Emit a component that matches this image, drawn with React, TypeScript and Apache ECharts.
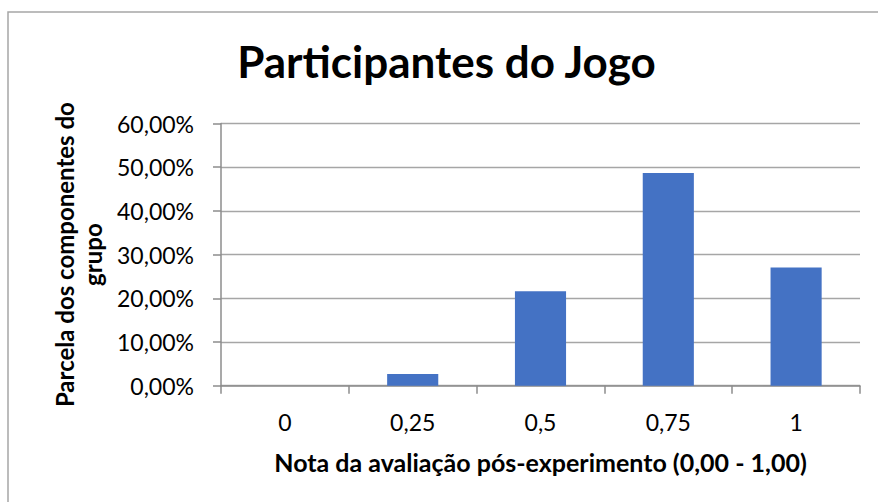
import React, { useEffect, useRef } from "react";
import * as echarts from "echarts";

const categories = ["0", "0,25", "0,5", "0,75", "1"];
const shares = [0, 2.7027, 21.6216, 48.6486, 27.027];
const yTicks = { min: 0, max: 60, interval: 10 };
const titleText = "Participantes do Jogo";
const xAxisName = "Nota da avaliação pós-experimento (0,00 - 1,00)";
const yAxisName = "Parcela dos componentes do\ngrupo";

const FONT = "Lato, 'Noto Sans', sans-serif";

export default function App() {
  const ref = useRef<HTMLDivElement>(null);
  useEffect(() => {
    document.body.style.margin = "0";
    const chart = echarts.init(ref.current!, null, { renderer: "svg" });
    chart.setOption({
      animation: false,
      backgroundColor: "#ffffff",
      textStyle: { fontFamily: FONT },
      graphic: [
        {
          type: "rect",
          shape: { x: 8, y: 12, width: 900, height: 520 },
          style: { fill: "none", stroke: "#a6a6a6", lineWidth: 1.5 },
          silent: true,
        },
        {
          type: "text",
          x: 446.5,
          y: 61,
          style: {
            text: titleText,
            fontFamily: FONT,
            fontSize: 44,
            fontWeight: "bold",
            fill: "#000000",
            align: "center",
            verticalAlign: "middle",
          },
        },
      ],
      grid: { left: 221, right: 18, top: 123.5, bottom: 116.3 },
      xAxis: {
        type: "category",
        data: categories,
        name: xAxisName,
        nameLocation: "middle",
        nameGap: 64,
        nameTextStyle: { fontFamily: FONT, fontSize: 25, fontWeight: "bold", color: "#000" },
        axisLine: { lineStyle: { color: "#8c8c8c", width: 1.5 } },
        axisTick: { show: true, length: 8, alignWithLabel: false, lineStyle: { color: "#8c8c8c", width: 1.5 } },
        axisLabel: { fontFamily: FONT, fontSize: 23, color: "#000", margin: 25 },
      },
      yAxis: {
        type: "value",
        min: yTicks.min,
        max: yTicks.max,
        interval: yTicks.interval,
        name: yAxisName,
        nameLocation: "middle",
        nameGap: 115,
        nameRotate: 90,
        nameTextStyle: { fontFamily: FONT, fontSize: 24, fontWeight: "bold", color: "#000", lineHeight: 28 },
        axisLine: { show: true, lineStyle: { color: "#8c8c8c", width: 1.5 } },
        axisTick: { show: true, length: 8, lineStyle: { color: "#8c8c8c", width: 1.5 } },
        axisLabel: {
          fontFamily: FONT,
          fontSize: 23,
          color: "#000",
          margin: 27,
          formatter: (v: number) => v.toFixed(2).replace(".", ",") + "%",
        },
        splitLine: { show: true, lineStyle: { color: "#a6a6a6", width: 1.3 } },
      },
      series: [
        {
          type: "bar",
          data: shares,
          barWidth: "40%",
          itemStyle: { color: "#4472C4" },
        },
      ],
    });
    return () => chart.dispose();
  }, []);
  return <div ref={ref} style={{ width: 878, height: 502 }} />;
}
